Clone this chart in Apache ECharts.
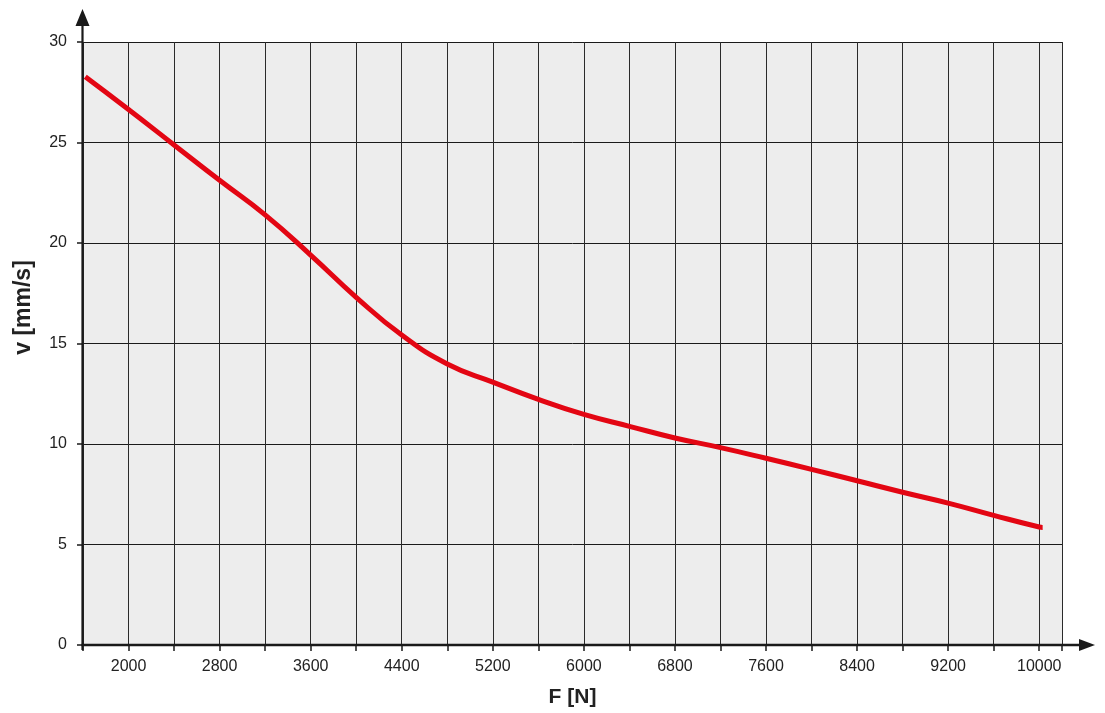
<!DOCTYPE html>
<html>
<head>
<meta charset="utf-8">
<script src="https://cdn.jsdelivr.net/npm/echarts@6/dist/echarts.min.js"></script>
<style>
  html, body { margin: 0; padding: 0; background: #fff; }
  #chart { width: 1105px; height: 713px; }
</style>
</head>
<body>
<div id="chart"></div>
<script>
// force F [N]
const forceN = [1620, 2000, 2400, 2800, 3200, 3600, 4000, 4400, 4800, 5200, 5600, 6000,
  6400, 6800, 7200, 7600, 8000, 8400, 8800, 9200, 9600, 10000, 10030];
// speed v [mm/s]
const speed = [28.27, 26.64, 24.88, 23.12, 21.4, 19.4, 17.3, 15.42, 13.98, 13.08, 12.22, 11.47,
  10.88, 10.3, 9.82, 9.29, 8.74, 8.17, 7.6, 7.06, 6.45, 5.87, 5.85];

const xMin = 1600, xMax = 10200, xStep = 400;
const xLabelStart = 2000, xLabelStep = 800;
const yMin = 0, yMax = 30, yStep = 5;

const axisColor = '#1a1a1a';
const font = "'Liberation Sans', Arial, sans-serif";

const chart = echarts.init(document.getElementById('chart'));

const option = {
  animation: false,
  grid: {
    left: 83, right: 43, top: 42, bottom: 68,
    show: true,
    backgroundColor: '#ededed',
    borderWidth: 0
  },
  xAxis: {
    type: 'value',
    min: xMin, max: xMax, interval: xStep,
    name: 'F [N]',
    nameLocation: 'middle',
    nameGap: 42,
    nameTextStyle: { fontFamily: font, fontSize: 21, fontWeight: 'bold', color: '#222' },
    axisLine: { show: false },
    axisTick: { show: true, length: 6, lineStyle: { color: axisColor, width: 1.5 } },
    axisLabel: {
      fontFamily: font, fontSize: 16, color: '#222', margin: 14,
      showMinLabel: true, showMaxLabel: true,
      formatter: function (v) {
        return (v - xLabelStart) % xLabelStep === 0 && v >= xLabelStart ? String(v) : '';
      }
    },
    splitLine: { show: true, lineStyle: { color: '#2a2a2a', width: 1 } }
  },
  yAxis: {
    type: 'value',
    min: yMin, max: yMax, interval: yStep,
    name: 'v [mm/s]',
    nameLocation: 'middle',
    nameRotate: 90,
    nameGap: 48,
    nameTextStyle: {
      fontFamily: font, fontSize: 23, fontWeight: 'bold', color: '#222',
      padding: [0, 0, 0, 72]
    },
    axisLine: { show: false },
    axisTick: { show: true, length: 6, lineStyle: { color: axisColor, width: 1.5 } },
    axisLabel: { fontFamily: font, fontSize: 16, color: '#222', margin: 16 },
    splitLine: { show: true, lineStyle: { color: '#1a1a1a', width: 1 } }
  },
  series: [{
    type: 'line',
    data: forceN.map((f, i) => [f, speed[i]]),
    smooth: true,
    symbol: 'none',
    lineStyle: { color: '#e30613', width: 5, cap: 'butt' },
    z: 5
  }]
};

chart.setOption(option);

// axis lines with arrows, running past the plot area
const origin = chart.convertToPixel({ gridIndex: 0 }, [xMin, yMin]);
const topPt = chart.convertToPixel({ gridIndex: 0 }, [xMin, yMax]);
const rightPt = chart.convertToPixel({ gridIndex: 0 }, [xMax, yMin]);
const ax = origin[0] - 0.5, ay = origin[1];
const yTip = topPt[1] - 33, xTip = rightPt[0] + 33;

chart.setOption({
  graphic: [
    { type: 'line', z: 10, shape: { x1: ax, y1: ay + 5, x2: ax, y2: yTip + 10 },
      style: { stroke: axisColor, lineWidth: 2.2 } },
    { type: 'polygon', z: 10, shape: { points: [[ax, yTip], [ax - 7, yTip + 17], [ax + 7, yTip + 17]] },
      style: { fill: axisColor } },
    { type: 'line', z: 10, shape: { x1: ax - 1, y1: ay, x2: xTip - 10, y2: ay },
      style: { stroke: axisColor, lineWidth: 2.6 } },
    { type: 'polygon', z: 10, shape: { points: [[xTip, ay], [xTip - 16, ay - 6], [xTip - 16, ay + 6]] },
      style: { fill: axisColor } }
  ]
});
</script>
</body>
</html>
